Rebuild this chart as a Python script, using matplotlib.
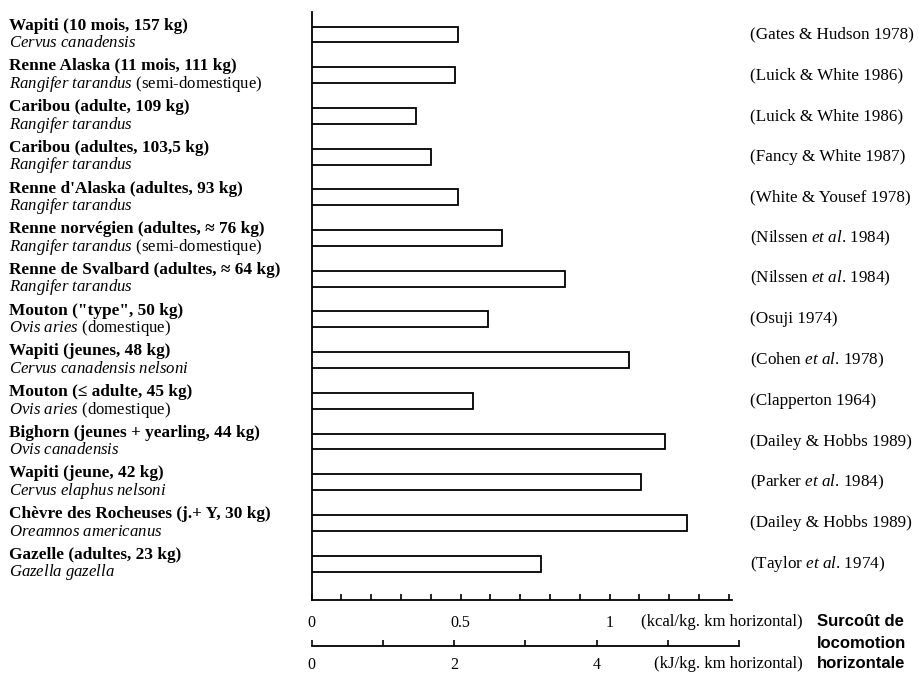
import matplotlib
matplotlib.use('Agg')
import matplotlib.pyplot as plt
import matplotlib.transforms as mtransforms
from matplotlib.ticker import FixedLocator, MultipleLocator

plt.rcParams['font.family'] = ['Liberation Serif', 'DejaVu Serif']
plt.rcParams['mathtext.fontset'] = 'custom'
plt.rcParams['mathtext.rm'] = 'Liberation Serif'
plt.rcParams['mathtext.it'] = 'Liberation Serif:italic'

KJ_PER_KCAL = 4.184

# animal, species, extra locomotion cost (kcal/kg.km), source
animals = [
    "Wapiti (10 mois, 157 kg)",
    "Renne Alaska (11 mois, 111 kg)",
    "Caribou (adulte, 109 kg)",
    "Caribou (adultes, 103,5 kg)",
    "Renne d'Alaska (adultes, 93 kg)",
    "Renne norvégien (adultes, ≈ 76 kg)",
    "Renne de Svalbard (adultes, ≈ 64 kg)",
    'Mouton ("type", 50 kg)',
    "Wapiti (jeunes, 48 kg)",
    "Mouton (≤ adulte, 45 kg)",
    "Bighorn (jeunes + yearling, 44 kg)",
    "Wapiti (jeune, 42 kg)",
    "Chèvre des Rocheuses (j.+ Y, 30 kg)",
    "Gazelle (adultes, 23 kg)",
]
species = [
    r"$\mathit{Cervus\ canadensis}$",
    r"$\mathit{Rangifer\ tarandus}$ (semi-domestique)",
    r"$\mathit{Rangifer\ tarandus}$",
    r"$\mathit{Rangifer\ tarandus}$",
    r"$\mathit{Rangifer\ tarandus}$",
    r"$\mathit{Rangifer\ tarandus}$ (semi-domestique)",
    r"$\mathit{Rangifer\ tarandus}$",
    r"$\mathit{Ovis\ aries}$ (domestique)",
    r"$\mathit{Cervus\ canadensis\ nelsoni}$",
    r"$\mathit{Ovis\ aries}$ (domestique)",
    r"$\mathit{Ovis\ canadensis}$",
    r"$\mathit{Cervus\ elaphus\ nelsoni}$",
    r"$\mathit{Oreamnos\ americanus}$",
    r"$\mathit{Gazella\ gazella}$",
]
costs_kcal = [0.49, 0.48, 0.35, 0.40, 0.49, 0.64, 0.85,
              0.59, 1.065, 0.54, 1.185, 1.105, 1.26, 0.77]
sources = [
    "(Gates & Hudson 1978)",
    "(Luick & White 1986)",
    "(Luick & White 1986)",
    "(Fancy & White 1987)",
    "(White & Yousef 1978)",
    r"(Nilssen $\mathit{et\ al}$. 1984)",
    r"(Nilssen $\mathit{et\ al}$. 1984)",
    "(Osuji 1974)",
    r"(Cohen $\mathit{et\ al}$. 1978)",
    "(Clapperton 1964)",
    "(Dailey & Hobbs 1989)",
    r"(Parker $\mathit{et\ al}$. 1984)",
    "(Dailey & Hobbs 1989)",
    r"(Taylor $\mathit{et\ al}$. 1974)",
]

W, H = 920, 674
fig = plt.figure(figsize=(W / 100, H / 100), dpi=100)

# x range runs to 6 kJ so that the kJ scale can reach its last tick
x_max = 6 / KJ_PER_KCAL
ax_left, ax_right = 311.7, 311.7 + 298 * x_max
ax_top, ax_bottom = 12, 600
ax = fig.add_axes([ax_left / W, 1 - ax_bottom / H,
                   (ax_right - ax_left) / W, (ax_bottom - ax_top) / H])

pos = list(range(len(animals)))
ax.barh(pos, costs_kcal, height=0.39, color='white',
        edgecolor='black', linewidth=1.3, zorder=3)

row = 40.7
ax.set_xlim(0, x_max)
ax.set_ylim((ax_bottom - 34.5) / row, -(34.5 - ax_top) / row)

for side in ('top', 'right'):
    ax.spines[side].set_visible(False)
ax.spines['left'].set_linewidth(1.3)
ax.spines['bottom'].set_linewidth(1.3)
ax.spines['bottom'].set_bounds(0, 1.41)
ax.set_yticks([])

ax.xaxis.set_major_locator(FixedLocator([0, 0.5, 1]))
ax.xaxis.set_minor_locator(FixedLocator([i / 10 for i in range(15)]))
ax.set_xticklabels(['0', '0.5', '1'])
ax.tick_params(axis='x', which='both', direction='in', length=4,
               width=1.2, labelsize=11.5, pad=11)

# kJ scale drawn under the kcal one
sec = ax.secondary_xaxis(-(646 - ax_bottom) / (ax_bottom - ax_top),
                         functions=(lambda x: x * KJ_PER_KCAL,
                                    lambda x: x / KJ_PER_KCAL))
sec.spines['bottom'].set_linewidth(1.3)
sec.xaxis.set_major_locator(FixedLocator([0, 2, 4]))
sec.xaxis.set_minor_locator(MultipleLocator(1))
sec.set_xticklabels(['0', '2', '4'])
sec.tick_params(axis='x', which='both', direction='in', length=4,
                width=1.2, labelsize=11.5, pad=8)

# labels on the left, sources on the right
lab_tr = mtransforms.blended_transform_factory(fig.transFigure, ax.transData)
for i, (name, sp, src) in enumerate(zip(animals, species, sources)):
    ax.text(9 / W, i - 0.215, name, transform=lab_tr, fontsize=12.4,
            fontweight='bold', va='center', ha='left')
    ax.text(9 / W, i + 0.215, sp, transform=lab_tr, fontsize=12.1,
            va='center', ha='left')
    ax.text(750 / W, i, src, transform=lab_tr, fontsize=12.3,
            va='center', ha='left')

fig.text(803 / W, 1 - 621.7 / H, "(kcal/kg. km horizontal)", fontsize=12,
         ha='right', va='center')
fig.text(803 / W, 1 - 664 / H, "(kJ/kg. km horizontal)", fontsize=12,
         ha='right', va='center')
for txt, y in zip(["Surcoût de", "locomotion", "horizontale"],
                  [621.7, 643, 664]):
    fig.text(817 / W, 1 - y / H, txt, fontsize=12, fontweight='bold',
             family=['Liberation Sans Narrow', 'Liberation Sans'],
             ha='left', va='center')

fig.savefig('out.png', dpi=100, facecolor='white')
